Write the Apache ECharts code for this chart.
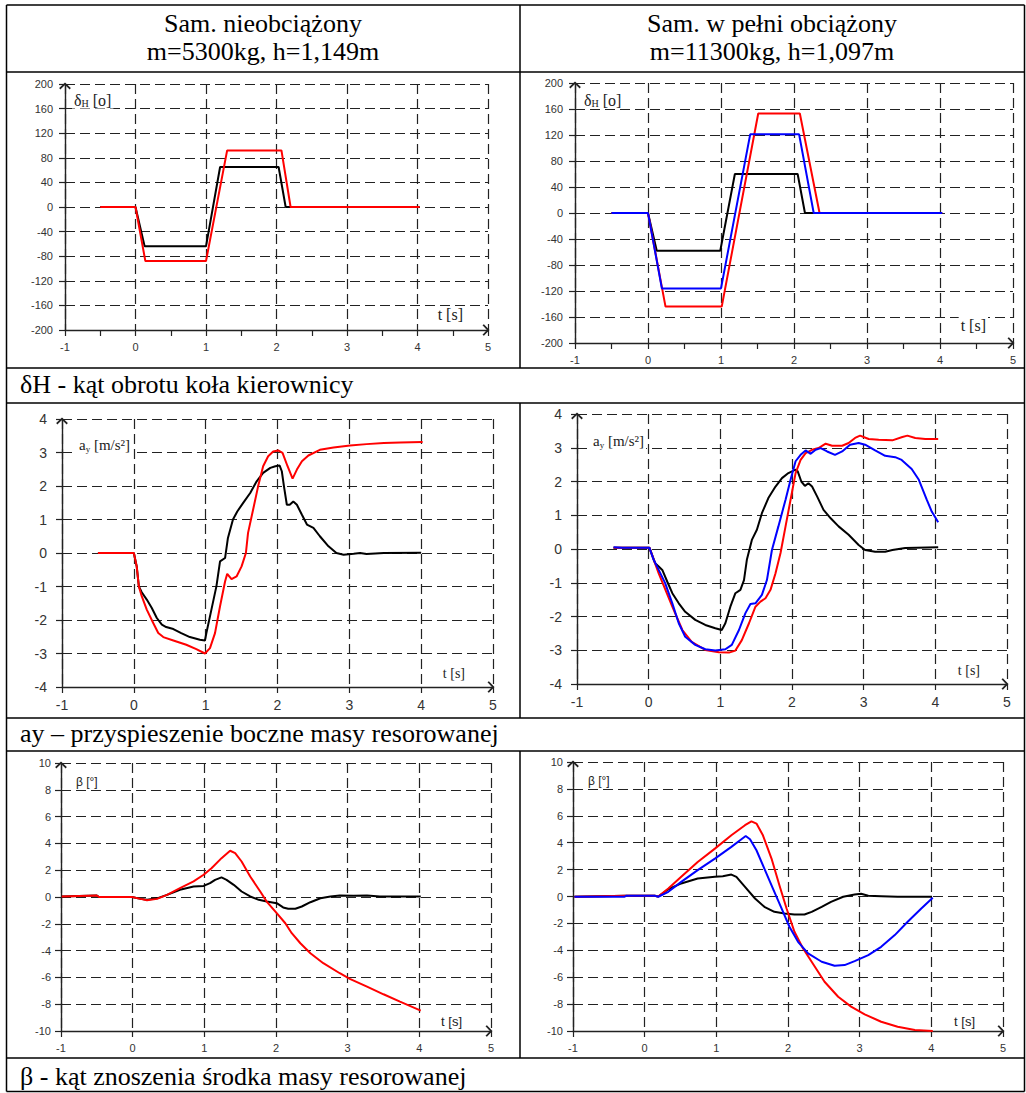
<!DOCTYPE html>
<html>
<head>
<meta charset="utf-8">
<title>Manewr podwójnej zmiany pasa ruchu</title>
<script src="https://cdn.jsdelivr.net/npm/echarts/dist/echarts.min.js"></script>
<style>
  html, body { margin: 0; padding: 0; background: #fff; }
  #main { width: 1026px; height: 1093px; }
</style>
</head>
<body>
<div id="main"></div>
<script>
// ---- teksty tabeli ----
var headLeft = ['Sam. nieobciążony', 'm=5300kg, h=1,149m']
var headRight = ['Sam. w pełni obciążony', 'm=11300kg, h=1,097m']
var rowTitles = [
    'δH - kąt obrotu koła kierownicy',
    'ay – przyspieszenie boczne masy resorowanej',
    'β - kąt znoszenia środka masy resorowanej'
]

// ---- zakresy osi [min, max, interval] ----
var tRange = [-1, 5, 1]
var dhRange = [-200, 200, 40]
var ayRange = [-4, 4, 1]
var betaRange = [-10, 10, 2]

// ---- dane: [t, wartość] ----
// δH, samochód nieobciążony
var dhUnBlack = [[-0.5, 0], [0, 0], [0.13, -64], [1.0, -64], [1.2, 65], [2.03, 65], [2.13, 0], [4.03, 0]]
var dhUnRed = [[-0.5, 0], [0, 0], [0.14, -88], [1.0, -88], [1.3, 92], [2.07, 92], [2.2, 0], [4.03, 0]]
// δH, samochód w pełni obciążony
var dhLoBlack = [[-0.5, 0], [0, 0], [0.12, -58], [0.99, -58], [1.19, 60], [2.05, 60], [2.15, 0], [4.03, 0]]
var dhLoRed = [[-0.5, 0], [0, 0], [0.24, -144], [1.01, -144], [1.51, 153], [2.08, 153], [2.35, 0], [4.03, 0]]
var dhLoBlue = [[-0.5, 0], [0, 0], [0.19, -116], [1.0, -116], [1.4, 121], [2.07, 121], [2.27, 0], [4.03, 0]]

// ay, nieobciążony
var ayUnBlack = [[-0.5, 0], [0, 0], [0.04, -0.4], [0.07, -1.0], [0.11, -1.17], [0.18, -1.39], [0.25, -1.64],
    [0.32, -1.94], [0.39, -2.14], [0.45, -2.21], [0.55, -2.27], [0.66, -2.39], [0.78, -2.51], [0.92, -2.59],
    [0.99, -2.61], [1.01, -2.39], [1.08, -1.69], [1.15, -0.99], [1.2, -0.25], [1.27, -0.15], [1.31, 0.45],
    [1.38, 1.0], [1.44, 1.24], [1.52, 1.49], [1.62, 1.79], [1.71, 2.14], [1.8, 2.39], [1.9, 2.54], [1.97, 2.59],
    [2.03, 2.61], [2.06, 2.44], [2.09, 1.99], [2.13, 1.44], [2.17, 1.44], [2.22, 1.54], [2.27, 1.44],
    [2.34, 1.14], [2.41, 0.85], [2.5, 0.75], [2.59, 0.5], [2.71, 0.2], [2.82, 0], [2.92, -0.05], [3.06, -0.02],
    [3.15, 0], [3.24, -0.03], [3.48, 0], [4.0, 0.01]]
var ayUnRed = [[-0.5, 0], [0, 0], [0.04, -0.4], [0.07, -1.0], [0.11, -1.29], [0.18, -1.69], [0.27, -2.09],
    [0.34, -2.39], [0.41, -2.51], [0.55, -2.61], [0.73, -2.74], [0.87, -2.87], [0.99, -3.0], [1.06, -2.84],
    [1.13, -2.39], [1.2, -1.59], [1.27, -0.85], [1.3, -0.62], [1.36, -0.78], [1.43, -0.7], [1.5, -0.4],
    [1.56, 0], [1.59, 0.6], [1.66, 1.29], [1.73, 1.99], [1.8, 2.59], [1.87, 2.89], [1.94, 3.03], [2.01, 3.06],
    [2.07, 2.99], [2.14, 2.59], [2.21, 2.22], [2.27, 2.49], [2.34, 2.74], [2.43, 2.91], [2.59, 3.08],
    [2.78, 3.15], [3.01, 3.21], [3.24, 3.25], [3.48, 3.28], [3.71, 3.3], [4.02, 3.31]]
// ay, obciążony
var ayLoBlack = [[-0.49, 0.04], [0.01, 0.04], [0.09, -0.42], [0.14, -0.52], [0.19, -0.62], [0.26, -0.97],
    [0.33, -1.31], [0.42, -1.61], [0.51, -1.86], [0.65, -2.1], [0.79, -2.25], [0.93, -2.35], [1.02, -2.4],
    [1.07, -2.2], [1.14, -1.71], [1.21, -1.31], [1.28, -1.21], [1.33, -0.92], [1.37, -0.32], [1.44, 0.27],
    [1.51, 0.57], [1.58, 1.06], [1.67, 1.51], [1.77, 1.85], [1.86, 2.1], [1.95, 2.25], [2.05, 2.35],
    [2.08, 2.3], [2.13, 2.0], [2.18, 1.87], [2.23, 1.95], [2.28, 1.85], [2.35, 1.56], [2.44, 1.16],
    [2.54, 0.91], [2.65, 0.67], [2.79, 0.42], [2.93, 0.12], [3.02, -0.03], [3.16, -0.08], [3.3, -0.08],
    [3.4, -0.03], [3.58, 0.03], [4.04, 0.05]]
var ayLoRed = [[-0.49, 0.04], [0.01, 0.04], [0.14, -0.72], [0.33, -1.71], [0.47, -2.4], [0.6, -2.75],
    [0.79, -2.99], [0.98, -3.06], [1.12, -3.07], [1.21, -3.01], [1.3, -2.7], [1.4, -2.2], [1.49, -1.71],
    [1.56, -1.56], [1.63, -1.46], [1.7, -1.21], [1.77, -0.72], [1.84, -0.12], [1.91, 0.67], [1.98, 1.46],
    [2.05, 2.25], [2.12, 2.64], [2.19, 2.84], [2.28, 2.94], [2.37, 2.99], [2.47, 3.12], [2.56, 3.06],
    [2.7, 3.06], [2.79, 3.14], [2.88, 3.29], [2.95, 3.36], [3.07, 3.26], [3.21, 3.24], [3.4, 3.22],
    [3.54, 3.32], [3.61, 3.36], [3.72, 3.29], [3.86, 3.26], [4.04, 3.26]]
var ayLoBlue = [[-0.49, 0.05], [-0.37, 0.04], [0.01, 0.04], [0.07, -0.32], [0.14, -0.62], [0.23, -1.01],
    [0.33, -1.61], [0.42, -2.2], [0.51, -2.6], [0.65, -2.84], [0.79, -2.97], [0.93, -3.01], [1.07, -2.97],
    [1.16, -2.84], [1.26, -2.4], [1.35, -1.9], [1.42, -1.63], [1.49, -1.61], [1.58, -1.36], [1.65, -0.92],
    [1.72, -0.03], [1.81, 0.67], [1.91, 1.46], [1.98, 2.05], [2.05, 2.6], [2.12, 2.79], [2.19, 2.92],
    [2.26, 2.82], [2.33, 2.94], [2.4, 2.99], [2.49, 2.89], [2.6, 2.79], [2.7, 2.89], [2.81, 3.09],
    [2.93, 3.14], [3.02, 3.09], [3.16, 2.92], [3.3, 2.76], [3.44, 2.72], [3.53, 2.64], [3.67, 2.37],
    [3.77, 2.05], [3.88, 1.46], [3.95, 1.11], [4.04, 0.79]]

// β, nieobciążony
var betaUnBlack = [[-0.99, 0.04], [-0.5, 0.11], [-0.47, 0], [-0.01, 0], [0.11, -0.14], [0.2, -0.2],
    [0.34, -0.1], [0.48, 0.16], [0.66, 0.54], [0.85, 0.78], [0.99, 0.83], [1.08, 1.03], [1.15, 1.28],
    [1.24, 1.46], [1.31, 1.28], [1.41, 0.91], [1.52, 0.41], [1.64, 0.04], [1.76, -0.21], [1.87, -0.34],
    [2.01, -0.46], [2.1, -0.78], [2.17, -0.88], [2.27, -0.88], [2.36, -0.71], [2.48, -0.39], [2.62, -0.09],
    [2.76, 0.04], [2.89, 0.11], [3.08, 0.09], [3.27, 0.11], [3.45, 0.04], [4.02, 0.04]]
var betaUnRed = [[-0.99, 0.04], [-0.5, 0.11], [-0.47, 0], [-0.01, 0], [0.11, -0.14], [0.2, -0.24],
    [0.34, -0.14], [0.48, 0.16], [0.66, 0.66], [0.85, 1.16], [0.99, 1.66], [1.1, 2.15], [1.24, 2.9],
    [1.36, 3.45], [1.43, 3.28], [1.52, 2.65], [1.64, 1.53], [1.78, 0.41], [1.87, -0.34], [2.01, -1.21],
    [2.13, -1.96], [2.22, -2.7], [2.34, -3.45], [2.48, -4.2], [2.66, -4.94], [2.89, -5.69], [3.03, -6.11],
    [3.27, -6.69], [3.5, -7.26], [3.73, -7.81], [4.02, -8.48]]
// β, obciążony
var betaLoBlack = [[-0.98, -0.02], [-0.26, 0.05], [0.14, 0.05], [0.19, 0], [0.33, 0.54], [0.51, 0.97],
    [0.74, 1.34], [0.98, 1.46], [1.09, 1.51], [1.21, 1.63], [1.28, 1.46], [1.4, 0.72], [1.54, -0.15],
    [1.67, -0.77], [1.81, -1.14], [1.95, -1.26], [2.09, -1.34], [2.23, -1.34], [2.33, -1.14], [2.47, -0.77],
    [2.6, -0.4], [2.77, -0.02], [2.93, 0.15], [3.02, 0.2], [3.12, 0.05], [3.3, 0.02], [3.53, -0.02], [4.01, -0.02]]
var betaLoRed = [[-0.98, -0.02], [-0.26, 0.05], [0.14, 0.05], [0.19, 0], [0.33, 0.59], [0.51, 1.46],
    [0.74, 2.57], [0.98, 3.56], [1.21, 4.55], [1.4, 5.3], [1.49, 5.59], [1.56, 5.42], [1.65, 4.55],
    [1.77, 2.82], [1.88, 0.84], [1.98, -0.89], [2.09, -2.62], [2.21, -3.86], [2.33, -4.85], [2.51, -6.34],
    [2.7, -7.45], [2.88, -8.19], [3.07, -8.76], [3.3, -9.31], [3.53, -9.68], [3.77, -9.93], [4.02, -10.0]]
var betaLoBlue = [[-0.98, -0.02], [-0.28, -0.02], [-0.26, 0.05], [0.14, 0.05], [0.19, -0.02], [0.33, 0.35],
    [0.51, 1.09], [0.74, 1.96], [0.98, 2.82], [1.21, 3.69], [1.35, 4.26], [1.41, 4.5], [1.47, 4.26],
    [1.56, 3.44], [1.67, 2.08], [1.79, 0.59], [1.91, -0.89], [2.02, -2.25], [2.14, -3.37], [2.28, -4.23],
    [2.47, -4.85], [2.65, -5.15], [2.79, -5.1], [2.93, -4.8], [3.12, -4.36], [3.3, -3.74], [3.49, -2.87],
    [3.67, -1.88], [3.86, -0.89], [4.02, -0.1]]

// ---- kolory ----
var cBlack = '#000000'
var cRed = '#ff0000'
var cBlue = '#0000ff'
var cAxis = '#222222'
var cText = '#222222'

// grot strzałki na końcu osi (otwarty "^"), proporcje 10x6 jak symbolSize
var arrowPath = 'path://M5,0L10,4.8L9,6L5,2.2L1,6L0,4.8Z'
var arrowSize = [12, 7]

var serif = '"Liberation Serif", "Times New Roman", serif'
var sans = '"Liberation Sans", Arial, sans-serif'

// ---- panele: box = [left, top, width, height] obszaru wykresu ----
var panels = [
    {box: [65, 84, 423, 246], range: dhRange, tick: 11, yMargin: 12, half: true,
        yName: 'δ{s|H} [o]', yAt: [7, 16], nameSize: 16, nameFont: serif,
        tAt: [23, 16], tSize: 16, tFont: serif,
        lines: [[dhUnBlack, cBlack], [dhUnRed, cRed]]},
    {box: [575, 83, 438, 260], range: dhRange, tick: 11, yMargin: 12, half: true,
        yName: 'δ{s|H} [o]', yAt: [7, 17], nameSize: 16, nameFont: serif,
        tAt: [25, 18], tSize: 16, tFont: serif,
        lines: [[dhLoBlack, cBlack], [dhLoRed, cRed], [dhLoBlue, cBlue]]},
    {box: [62, 419, 431, 268], range: ayRange, tick: 14, yMargin: 15, half: false,
        yName: 'a{s|y} [m/s²]', yAt: [15, 26], nameSize: 15, nameFont: serif,
        tAt: [26, 14], tSize: 14, tFont: serif,
        lines: [[ayUnBlack, cBlack], [ayUnRed, cRed]]},
    {box: [577, 414, 430, 270], range: ayRange, tick: 14, yMargin: 15, half: false,
        yName: 'a{s|y} [m/s²]', yAt: [14, 27], nameSize: 15, nameFont: serif,
        tAt: [25, 14], tSize: 14, tFont: serif,
        lines: [[ayLoBlack, cBlack], [ayLoRed, cRed], [ayLoBlue, cBlue]]},
    {box: [61, 763, 430, 268], range: betaRange, tick: 11, yMargin: 10, half: false,
        yName: 'β [°]', yAt: [13, 19], nameSize: 12, nameFont: sans,
        tAt: [27, 10], tSize: 13, tFont: sans,
        lines: [[betaUnBlack, cBlack], [betaUnRed, cRed]]},
    {box: [573, 762, 430, 269], range: betaRange, tick: 11, yMargin: 10, half: false,
        yName: 'β [°]', yAt: [13, 19], nameSize: 12, nameFont: sans,
        tAt: [26, 10], tSize: 13, tFont: sans,
        lines: [[betaLoBlack, cBlack], [betaLoRed, cRed], [betaLoBlue, cBlue]]}
]

var grids = [], xAxes = [], yAxes = [], series = [], graphics = []

panels.forEach(function(p, i) {
    var b = p.box
    grids.push({left: b[0], top: b[1], width: b[2], height: b[3], containLabel: false})

    var splitLine = {show: true, lineStyle: {color: cAxis, width: 1.2, type: [10, 5]}}
    var axisLine = {
        show: true, onZero: false,
        symbol: ['none', arrowPath], symbolSize: arrowSize,
        symbolOffset: [0, -2],
        lineStyle: {color: cAxis, width: 1.4}
    }
    xAxes.push({
        gridIndex: i, type: 'value',
        min: tRange[0], max: tRange[1], interval: tRange[2],
        axisLine: axisLine,
        axisTick: {show: true, inside: false, length: 6, lineStyle: {color: cAxis, width: 1.2}},
        minorTick: {show: p.half, splitNumber: 2, length: 6, lineStyle: {color: cAxis, width: 1.2}},
        axisLabel: {fontSize: p.tick, fontFamily: sans, color: '#333', margin: 11},
        splitLine: splitLine
    })
    yAxes.push({
        gridIndex: i, type: 'value',
        min: p.range[0], max: p.range[1], interval: p.range[2],
        axisLine: axisLine,
        axisTick: {show: true, inside: false, length: 6, lineStyle: {color: cAxis, width: 1.2}},
        axisLabel: {fontSize: p.tick, fontFamily: sans, color: '#333', margin: p.yMargin},
        splitLine: splitLine
    })

    p.lines.forEach(function(l) {
        series.push({
            type: 'line', xAxisIndex: i, yAxisIndex: i,
            data: l[0], symbol: 'none', silent: true,
            lineStyle: {color: l[1], width: 2},
            itemStyle: {color: l[1]}
        })
    })

    // opis osi Y (lewy górny róg) i osi czasu (prawy dolny róg)
    graphics.push({
        type: 'text', z: 100,
        x: b[0] + p.yAt[0], y: b[1] + p.yAt[1],
        style: {
            text: p.yName, fill: cText, fontSize: p.nameSize, fontFamily: p.nameFont,
            align: 'left', verticalAlign: 'middle', textAlign: 'left', textVerticalAlign: 'middle',
            backgroundColor: '#fff', padding: [0, 2],
            rich: {s: {fontSize: Math.round(p.nameSize * 0.62), fontFamily: p.nameFont, fill: cText, padding: [7, 0, 0, 0]}}
        }
    })
    graphics.push({
        type: 'text', z: 100,
        x: b[0] + b[2] - p.tAt[0], y: b[1] + b[3] - p.tAt[1],
        style: {
            text: 't [s]', fill: cText, fontSize: p.tSize, fontFamily: p.tFont,
            align: 'right', verticalAlign: 'middle', textAlign: 'right', textVerticalAlign: 'middle',
            backgroundColor: '#fff', padding: [0, 2]
        }
    })
})

// ---- linie tabeli ----
function hLine(x1, x2, y) {
    return {type: 'line', z: 50, shape: {x1: x1, y1: y, x2: x2, y2: y}, style: {stroke: '#000', lineWidth: 1.5}}
}
function vLine(x, y1, y2) {
    return {type: 'line', z: 50, shape: {x1: x, y1: y1, x2: x, y2: y2}, style: {stroke: '#000', lineWidth: 1.5}}
}
var tL = 6.5, tR = 1024.5, colX = 520
var rowY = [5, 72, 368, 403, 718, 751, 1058, 1091.5]
rowY.forEach(function(y) { graphics.push(hLine(tL, tR, y)) })
graphics.push(vLine(tL, rowY[0], rowY[7]))
graphics.push(vLine(tR, rowY[0], rowY[7]))
graphics.push(vLine(colX, rowY[0], rowY[2]))
graphics.push(vLine(colX, rowY[3], rowY[4]))
graphics.push(vLine(colX, rowY[5], rowY[6]))

// ---- nagłówki kolumn ----
function headText(str, x, y) {
    return {
        type: 'text', z: 60, x: x, y: y,
        style: {
            text: str, fill: '#000', fontSize: 26, fontFamily: serif,
            align: 'center', verticalAlign: 'middle', textAlign: 'center', textVerticalAlign: 'middle'
        }
    }
}
graphics.push(headText(headLeft[0], 263, 23))
graphics.push(headText(headLeft[1], 263, 51))
graphics.push(headText(headRight[0], 772, 23))
graphics.push(headText(headRight[1], 772, 51))

// ---- podpisy wierszy ----
var rowTextY = [384, 733.5, 1076]
rowTitles.forEach(function(t, k) {
    graphics.push({
        type: 'text', z: 60, x: 20, y: rowTextY[k],
        style: {
            text: t, fill: '#000', fontSize: 26, fontFamily: serif,
            align: 'left', verticalAlign: 'middle', textAlign: 'left', textVerticalAlign: 'middle'
        }
    })
})

var option = {
    animation: false,
    backgroundColor: '#fff',
    grid: grids,
    xAxis: xAxes,
    yAxis: yAxes,
    series: series,
    graphic: {elements: graphics}
}

var chart = echarts.init(document.getElementById('main'), null, {renderer: 'svg'})
chart.setOption(option)
window.addEventListener('resize', function() {
    chart.resize()
})
</script>
</body>
</html>
